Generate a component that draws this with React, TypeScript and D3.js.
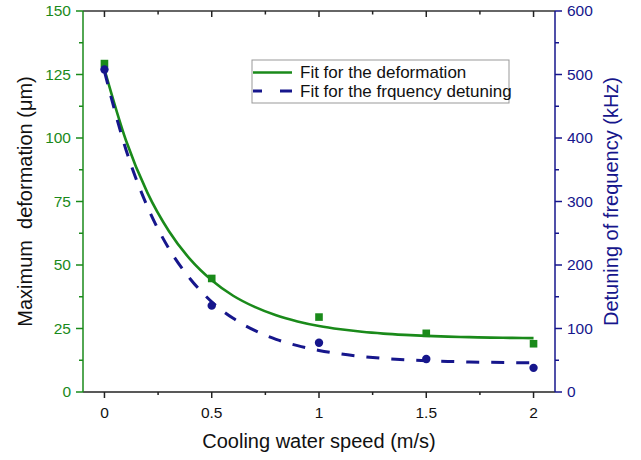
import React from "react";
import * as d3 from "d3";

// measured points
const speeds = [0, 0.5, 1, 1.5, 2];
const deformation = [129.3, 44.7, 29.5, 23.1, 19.0];
const detuning = [508, 136, 77.5, 52, 38];

// fit curves
const fitSpeeds = [0, 0.1, 0.2, 0.3, 0.4, 0.5, 0.6, 0.7, 0.8, 0.9, 1, 1.1, 1.2, 1.3, 1.4, 1.5, 1.6, 1.7, 1.8, 1.9, 2];
const deformationFit = [127, 99.1, 78.5, 63.4, 52.2, 44.0, 37.9, 33.5, 30.2, 27.8, 26.0, 24.7, 23.7, 23.0, 22.5, 22.1, 21.8, 21.6, 21.4, 21.3, 21.2];
const detuningFit = [505, 382, 292, 226, 178, 142, 116, 97, 83, 73, 65.5, 60, 56, 53, 50.9, 49.3, 48.2, 47.3, 46.7, 46.2, 45.9];

const xTicks = [0, 0.5, 1, 1.5, 2];
const xMinor = [0.25, 0.75, 1.25, 1.75];
const leftTicks = [0, 25, 50, 75, 100, 125, 150];
const leftMinor = [12.5, 37.5, 62.5, 87.5, 112.5, 137.5];
const rightTicks = [0, 100, 200, 300, 400, 500, 600];
const rightMinor = [50, 150, 250, 350, 450, 550];

const legendLabels = ["Fit for the deformation", "Fit for the frquency detuning"];

const GREEN = "#1a8a1a";
const NAVY = "#16168c";
const FONT = "'Liberation Sans', Arial, Helvetica, sans-serif";

function App() {
  const width = 641;
  const height = 460;
  const left = 83, right = 555, top = 11, bottom = 392;

  const x = d3.scaleLinear().domain([-0.1, 2.1]).range([left, right]);
  const yL = d3.scaleLinear().domain([0, 150]).range([bottom, top]);
  const yR = d3.scaleLinear().domain([0, 600]).range([bottom, top]);

  const defLine = d3.line<number>()
    .x((d, i) => x(fitSpeeds[i]))
    .y((d) => yL(d))
    .curve(d3.curveMonotoneX);
  const detLine = d3.line<number>()
    .x((d, i) => x(fitSpeeds[i]))
    .y((d) => yR(d))
    .curve(d3.curveMonotoneX);

  return (
    <svg width={width} height={height} style={{position: "absolute", left: 0, top: 0, background: "#fff"}} fontFamily={FONT}>
      {/* frame */}
      <line x1={left} x2={right} y1={top} y2={top} stroke="#333" strokeWidth={1.5} />
      <line x1={left} x2={right} y1={bottom} y2={bottom} stroke="#222" strokeWidth={1.5} />

      {/* bottom axis */}
      {xTicks.map((t) => (
        <g key={"xt" + t}>
          <line x1={x(t)} x2={x(t)} y1={bottom} y2={bottom + 6} stroke="#222" strokeWidth={1.5} />
          <line x1={x(t)} x2={x(t)} y1={top} y2={top + 6} stroke="#222" strokeWidth={1.5} />
          <text x={x(t)} y={bottom + 26} textAnchor="middle" fontSize={15.5} fill="#111">{t}</text>
        </g>
      ))}
      {xMinor.map((t) => (
        <g key={"xm" + t}>
          <line x1={x(t)} x2={x(t)} y1={bottom} y2={bottom + 3} stroke="#222" strokeWidth={1.5} />
          <line x1={x(t)} x2={x(t)} y1={top} y2={top + 3.5} stroke="#222" strokeWidth={1.5} />
        </g>
      ))}
      <text x={(left + right) / 2} y={448} textAnchor="middle" fontSize={20} fill="#111">Cooling water speed (m/s)</text>

      {/* left axis */}
      <line x1={left} x2={left} y1={top} y2={bottom} stroke={GREEN} strokeWidth={1.5} />
      {leftTicks.map((t) => (
        <g key={"lt" + t}>
          <line x1={left - 7} x2={left} y1={yL(t)} y2={yL(t)} stroke={GREEN} strokeWidth={1.5} />
          <text x={left - 12} y={yL(t)} dy="0.35em" textAnchor="end" fontSize={15.5} fill={GREEN}>{t}</text>
        </g>
      ))}
      {leftMinor.map((t) => (
        <line key={"lm" + t} x1={left - 4} x2={left} y1={yL(t)} y2={yL(t)} stroke={GREEN} strokeWidth={1.5} />
      ))}
      <text transform={`translate(32,${(top + bottom) / 2}) rotate(-90)`} textAnchor="middle" fontSize={20} fill="#111" style={{whiteSpace: "pre"}}>{"Maximum  deformation (μm)"}</text>

      {/* right axis */}
      <line x1={right} x2={right} y1={top} y2={bottom} stroke={NAVY} strokeWidth={1.5} />
      {rightTicks.map((t) => (
        <g key={"rt" + t}>
          <line x1={right} x2={right + 7} y1={yR(t)} y2={yR(t)} stroke={NAVY} strokeWidth={1.5} />
          <text x={right + 12} y={yR(t)} dy="0.35em" textAnchor="start" fontSize={15.5} fill={NAVY}>{t}</text>
        </g>
      ))}
      {rightMinor.map((t) => (
        <line key={"rm" + t} x1={right} x2={right + 4} y1={yR(t)} y2={yR(t)} stroke={NAVY} strokeWidth={1.5} />
      ))}
      <text transform={`translate(618,${(top + bottom) / 2}) rotate(-90)`} textAnchor="middle" fontSize={20} fill={NAVY}>Detuning of frequency (kHz)</text>

      {/* fits */}
      <path d={defLine(deformationFit) || ""} fill="none" stroke={GREEN} strokeWidth={2.6} />
      <path d={detLine(detuningFit) || ""} fill="none" stroke={NAVY} strokeWidth={3} strokeDasharray="13,12" />

      {/* points */}
      {speeds.map((s, i) => (
        <rect key={"sq" + i} x={x(s) - 3.8} y={yL(deformation[i]) - 3.8} width={7.6} height={7.6} fill={GREEN} />
      ))}
      {speeds.map((s, i) => (
        <circle key={"ci" + i} cx={x(s)} cy={yR(detuning[i])} r={4.2} fill={NAVY} />
      ))}

      {/* legend */}
      <g>
        <rect x={252} y={60} width={257} height={43} fill="#fff" stroke="#999" strokeWidth={1} />
        <line x1={253} x2={292} y1={72.5} y2={72.5} stroke={GREEN} strokeWidth={2.6} />
        <line x1={253} x2={292} y1={91} y2={91} stroke={NAVY} strokeWidth={3} strokeDasharray="9,18,12" />
        {legendLabels.map((l, i) => (
          <text key={l} x={300} y={72.5 + i * 18.5} dy="0.35em" fontSize={17} fill="#111">{l}</text>
        ))}
      </g>
    </svg>
  );
}

export default App;
